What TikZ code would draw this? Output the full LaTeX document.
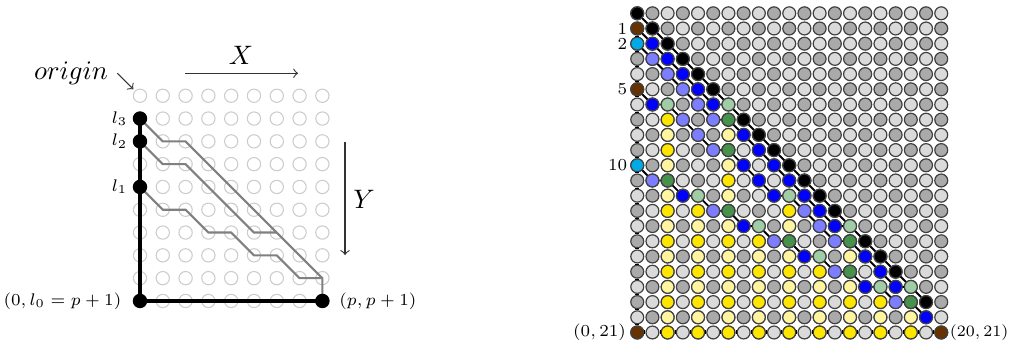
\documentclass[tikz,border=0pt]{standalone}
\usetikzlibrary{positioning}
\definecolor{dotdark}{RGB}{170,170,170}
\definecolor{dotlight}{RGB}{218,218,218}
\definecolor{dotbrown}{RGB}{102,51,0}
\definecolor{dotcyan}{RGB}{0,170,230}
\definecolor{dotblue}{RGB}{0,0,255}
\definecolor{dotlav}{RGB}{125,125,255}
\definecolor{dotmint}{RGB}{160,205,165}
\definecolor{dotgreen}{RGB}{70,145,75}
\definecolor{dotyellow}{RGB}{255,230,0}
\definecolor{dotcream}{RGB}{255,245,160}
\begin{document}
\begin{tikzpicture}[spot/.style={circle, draw=gray!40, line width=0.4pt, minimum size=0.175cm, inner sep=0pt},
        bigdot/.style={circle, fill=black, minimum size=0.19cm, inner sep=0pt},
        cell/.style={circle, draw=black!75, line width=0.45pt, minimum size=0.17cm, inner sep=0pt},
        trail/.style={draw=gray, line width=0.8pt},
        rail/.style={line width=1.5pt},
        link/.style={line width=0.7pt},
        lbl/.style={font=\scriptsize, scale=0.9, inner sep=1pt}]
    \useasboundingbox (0,0) rectangle (13.29,4.487);
    \foreach \x in {0,...,8}
        \foreach \y in {0,...,9}
            \node[spot] (a\x-\y) at ({1.842+0.3*\x},{3.227-0.3*\y}) {};
    \draw[trail] (a0-1.center) -- (a1-2.center) -- (a2-2.center) -- (a8-8.center) -- (a8-9.center);
    \draw[trail] (a0-2.center) -- (a1-3.center) -- (a2-3.center) -- (a5-6.center) -- (a6-6.center);
    \draw[trail] (a0-4.center) -- (a1-5.center) -- (a2-5.center) -- (a3-6.center) -- (a4-6.center) -- (a5-7.center) -- (a6-7.center) -- (a7-8.center) -- (a8-8.center);
    \draw[rail] (a0-1.center) -- (a0-9.center) -- (a8-9.center);
    \node[bigdot] (l3) at (a0-1) {};
    \node[bigdot] (l2) at (a0-2) {};
    \node[bigdot] (l1) at (a0-4) {};
    \node[bigdot] (l0) at (a0-9) {};
    \node[bigdot] (pend) at (a8-9) {};
    \node[lbl, left=0.8pt of l3] (t3) {$l_3$};
    \node[lbl, left=0.8pt of l2] (t2) {$l_2$};
    \node[lbl, left=0.8pt of l1] (t1) {$l_1$};
    \node[lbl, left=3pt of l0] (t0) {$(0,l_0=p+1)$};
    \node[lbl, right=2.4pt of pend] (tp) {$(p,p+1)$};
    \node[anchor=base] (orglbl) at (0.934,3.435) {$origin$};
    \coordinate (orgtail) at (1.544,3.523);
    \coordinate (orghead) at (1.754,3.312);
    \draw[->, black!80] (orgtail) -- (orghead);
    \node[anchor=base] (xlbl) at (3.172,3.632) {$X$};
    \coordinate (xtail) at (2.435,3.523);
    \coordinate (xhead) at (3.922,3.523);
    \draw[->, black!80] (xtail) -- (xhead);
    \node[anchor=base] (ylbl) at (4.790,1.750) {$Y$};
    \coordinate (ytail) at (4.540,2.623);
    \coordinate (yhead) at (4.540,1.132);
    \draw[->, black!80] (ytail) -- (yhead);

    \foreach \c in {0,...,20}
        \foreach \r in {0,...,21} {
            \pgfmathtruncatemacro\odd{mod(\r+\c,2)}
            \ifnum\odd=1 \def\cellfill{dotdark}\else\def\cellfill{dotlight}\fi
            \node[cell, fill=\cellfill] (r\r-\c) at ({8.385+0.2*\c},{4.312-0.2*\r}) {};
        }
    \foreach \c/\s in {2/7,4/13,6/7,8/15,10/13,12/17,14/15,16/19,18/19}
        \foreach \r in {\s,...,21} {
            \ifodd\r \def\cellfill{dotyellow}\else\def\cellfill{dotcream}\fi
            \node[cell, fill=\cellfill] (r\r-\c) at ({8.385+0.2*\c},{4.312-0.2*\r}) {};
        }
    \foreach \r in {0,1,2,3,4,5,7,8,9,10,11,12,13,15,16,17,19}
        \node[cell, fill=black] (r\r-\r) at ({8.385+0.2*\r},{4.312-0.2*\r}) {};
    \foreach \r/\c in {2/1,3/2,4/3,5/4,6/5,8/7,9/8,10/9,11/10,12/11,13/12,14/13,16/15,17/16,18/17,20/19,6/1,10/7,11/8,12/9,12/3,14/7,16/11,18/15}
        \node[cell, fill=dotblue] (r\r-\c) at ({8.385+0.2*\c},{4.312-0.2*\r}) {};
    \foreach \r/\c in {3/1,4/2,5/3,6/4,7/5,7/3,8/4,9/5,13/11,14/12,15/13,11/1,13/5,15/9,17/13,19/17}
        \node[cell, fill=dotlav] (r\r-\c) at ({8.385+0.2*\c},{4.312-0.2*\r}) {};
    \foreach \r/\c in {6/2,6/6,12/4,12/10,14/8,14/14,16/12,18/16,18/18}
        \node[cell, fill=dotmint] (r\r-\c) at ({8.385+0.2*\c},{4.312-0.2*\r}) {};
    \foreach \r/\c in {7/6,9/6,11/2,13/6,15/10,15/14,17/14,19/18}
        \node[cell, fill=dotgreen] (r\r-\c) at ({8.385+0.2*\c},{4.312-0.2*\r}) {};
    \foreach \r/\c in {1/0,5/0,21/0,21/20}
        \node[cell, fill=dotbrown] (r\r-\c) at ({8.385+0.2*\c},{4.312-0.2*\r}) {};
    \foreach \r/\c in {2/0,10/0}
        \node[cell, fill=dotcyan] (r\r-\c) at ({8.385+0.2*\c},{4.312-0.2*\r}) {};

    \foreach \r [count=\n from 2] in {1,...,20}
        \draw[rail] (r\r-0) -- (r\n-0);
    \foreach \c [count=\n from 1] in {0,...,19}
        \draw[rail] (r21-\c) -- (r21-\n);
    \foreach \r [count=\n from 1] in {0,...,18}
        \draw[link] (r\r-\r) -- (r\n-\n);
    \draw[link] (r1-0) -- (r2-1) -- (r3-2) -- (r4-3) -- (r5-4) -- (r6-5) -- (r6-6);
    \draw[link] (r2-0) -- (r3-1) -- (r4-2) -- (r5-3) -- (r6-4) -- (r7-5) -- (r7-6) -- (r8-7) -- (r9-8) -- (r10-9) -- (r11-10) -- (r12-11) -- (r13-12) -- (r14-13) -- (r14-14);
    \draw[link] (r5-0) -- (r6-1) -- (r6-2) -- (r7-3) -- (r8-4) -- (r9-5) -- (r9-6) -- (r10-7) -- (r11-8) -- (r12-9) -- (r12-10) -- (r13-11) -- (r14-12) -- (r15-13) -- (r15-14) -- (r16-15) -- (r17-16) -- (r18-17) -- (r18-18);
    \draw[link] (r10-0) -- (r11-1) -- (r11-2) -- (r12-3) -- (r12-4) -- (r13-5) -- (r13-6) -- (r14-7) -- (r14-8) -- (r15-9) -- (r15-10) -- (r16-11) -- (r16-12) -- (r17-13) -- (r17-14) -- (r18-15) -- (r18-16) -- (r19-17) -- (r19-18) -- (r20-19);
    \node[lbl, left=0pt of r1-0] (n1) {1};
    \node[lbl, left=0pt of r2-0] (n2) {2};
    \node[lbl, left=0pt of r5-0] (n5) {5};
    \node[lbl, left=0pt of r10-0] (n10) {10};
    \node[lbl, left=0.5pt of r21-0] (nbl) {$(0,21)$};
    \node[lbl, scale=0.94, inner sep=0.5pt, right=0pt of r21-20] (nbr) {$(20,21)$};
\end{tikzpicture}
\end{document}
